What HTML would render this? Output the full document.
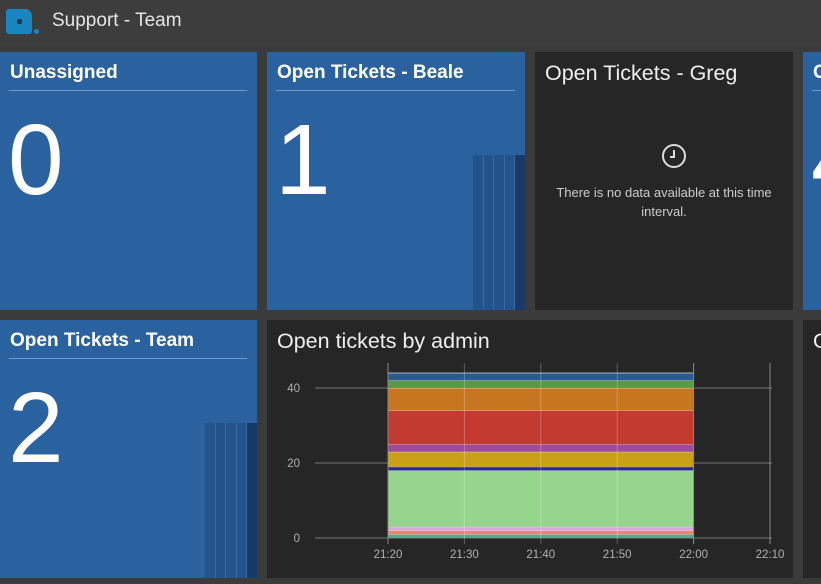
<!DOCTYPE html>
<html><head><meta charset="utf-8"><style>
*{box-sizing:border-box;margin:0;padding:0}
body{width:821px;height:584px;background:#3b3b3b;font-family:"Liberation Sans",sans-serif;overflow:hidden;position:relative;color:#fff}
.hdr{position:absolute;left:0;top:0;width:821px;height:46px;background:#3d3d3d}
.logo{position:absolute;left:6px;top:9px;width:26px;height:25px;background:#1a86c0;border-radius:3px 7px 3px 3px}
.logo:after{content:"";position:absolute;left:11px;top:10px;width:5px;height:5px;background:#1b3c52;border-radius:1px}
.dot{position:absolute;left:34px;top:29px;width:5px;height:5px;background:#1a86c0;border-radius:50%}
.ttl{position:absolute;left:52px;top:10px;font-size:19px;color:#e6e6e6}
.p{position:absolute;overflow:hidden}
.blue{background:#2a62a0}
.dark{background:#262626}
.pt{position:absolute;left:10px;top:10px;font-size:19px;font-weight:bold;white-space:nowrap}
.dark .pt{font-weight:normal;font-size:21.5px;color:#eee;top:9px}
.ln{position:absolute;left:9px;right:10px;top:38px;height:1px;background:#6a9ad0}
.big{position:absolute;left:8px;top:48px;font-size:100px;font-weight:normal;line-height:1.2}
.spark{position:absolute;bottom:0;width:52px;height:155px;display:flex}
.spark div{flex:1;background:#22538a;border-right:1px solid #3a6aa3}
.spark div:last-child{background:#173a66;border:none}
</style></head><body>
<div class="hdr">
<div class="logo"></div><div class="dot"></div>
<div class="ttl">Support - Team</div></div>

<div class="p blue" style="left:0;top:52px;width:257px;height:258px">
<div class="pt">Unassigned</div><div class="ln"></div>
<div class="big">0</div></div>

<div class="p blue" style="left:267px;top:52px;width:258px;height:258px">
<div class="pt">Open Tickets - Beale</div><div class="ln"></div>
<div class="big">1</div>
<div class="spark" style="right:0"><div></div><div></div><div></div><div></div><div></div></div></div>

<div class="p dark" style="left:535px;top:52px;width:258px;height:258px">
<div class="pt">Open Tickets - Greg</div>
<svg style="position:absolute;left:126px;top:91px" width="26" height="26"><circle cx="13" cy="13" r="11" fill="none" stroke="#ddd" stroke-width="2"/><path d="M13 7v7h-4" fill="none" stroke="#ddd" stroke-width="2"/></svg>
<div style="position:absolute;left:0;width:258px;top:131px;text-align:center;font-size:13px;line-height:19px;color:#ccc">There is no data available at this time<br>interval.</div></div>

<div class="p blue" style="left:803px;top:52px;width:30px;height:258px">
<div class="pt">O</div><div class="ln"></div>
<div class="big" style="left:8px">4</div></div>

<div class="p blue" style="left:0;top:320px;width:257px;height:258px">
<div class="pt">Open Tickets - Team</div><div class="ln"></div>
<div class="big">2</div>
<div class="spark" style="right:0"><div></div><div></div><div></div><div></div><div></div></div></div>

<div class="p dark" style="left:267px;top:320px;width:526px;height:258px">
<div class="pt">Open tickets by admin</div>
<svg id="ch" style="position:absolute;left:0;top:0" width="526" height="258"></svg></div>

<div class="p dark" style="left:803px;top:320px;width:30px;height:258px">
<div class="pt">O</div></div>

<script>
const layerValues=[1,1,1,15,1,4,2,9,6,2,2];
const layerColors=["#5aa68c","#e58a6a","#d6a6d6","#96d68c","#2a2a8a","#caa018","#a04a9a","#c23a30","#c87520","#5a9a45","#2a5a90"];
const yTicks=[0,20,40];
const xTickLabels=["21:20","21:30","21:40","21:50","22:00","22:10"];
const xStart=0, xEnd=4;
const ns="http://www.w3.org/2000/svg",svg=document.getElementById('ch');
const ox=267,oy=320;
const X=i=>388-ox+i*76.4, Y=v=>538-oy-v*3.75;
function mk(t,a){const e=document.createElementNS(ns,t);for(const k in a)e.setAttribute(k,a[k]);svg.appendChild(e);return e;}
yTicks.forEach(v=>{
 const g=mk('line',{x1:315-ox,x2:772-ox,y1:Y(v),y2:Y(v),stroke:'#777','stroke-width':1});
 
 
 const t=mk('text',{x:300-ox,y:Y(v)+4,'text-anchor':'end','font-size':11.5,fill:'#b0b0b0','font-family':'Liberation Sans'});
 t.textContent=v;
 
 
});
let cum=0;
layerValues.forEach((v,i)=>{
 const r=mk('rect',{x:X(xStart),width:X(xEnd)-X(xStart),y:Y(cum+v),height:v*3.75,fill:layerColors[i]});
 
 
 const l=mk('line',{x1:X(xStart),x2:X(xEnd),y1:Y(cum+v),y2:Y(cum+v),stroke:'rgba(255,255,255,0.6)','stroke-width':1});
 
 
 cum+=v;
});
xTickLabels.forEach((s,i)=>{
 const g=mk('line',{x1:X(i),x2:X(i),y1:Y(0)+6,y2:Y(cum)-10,stroke:i%4==0||i==5?'#888':'rgba(255,255,255,0.25)','stroke-width':1});
 
 
 const t=mk('text',{x:X(i),y:Y(0)+20,'text-anchor':'middle','font-size':11.5,fill:'#b0b0b0','font-family':'Liberation Sans'});
 t.textContent=s;
 
 
});
</script>
</body></html>
